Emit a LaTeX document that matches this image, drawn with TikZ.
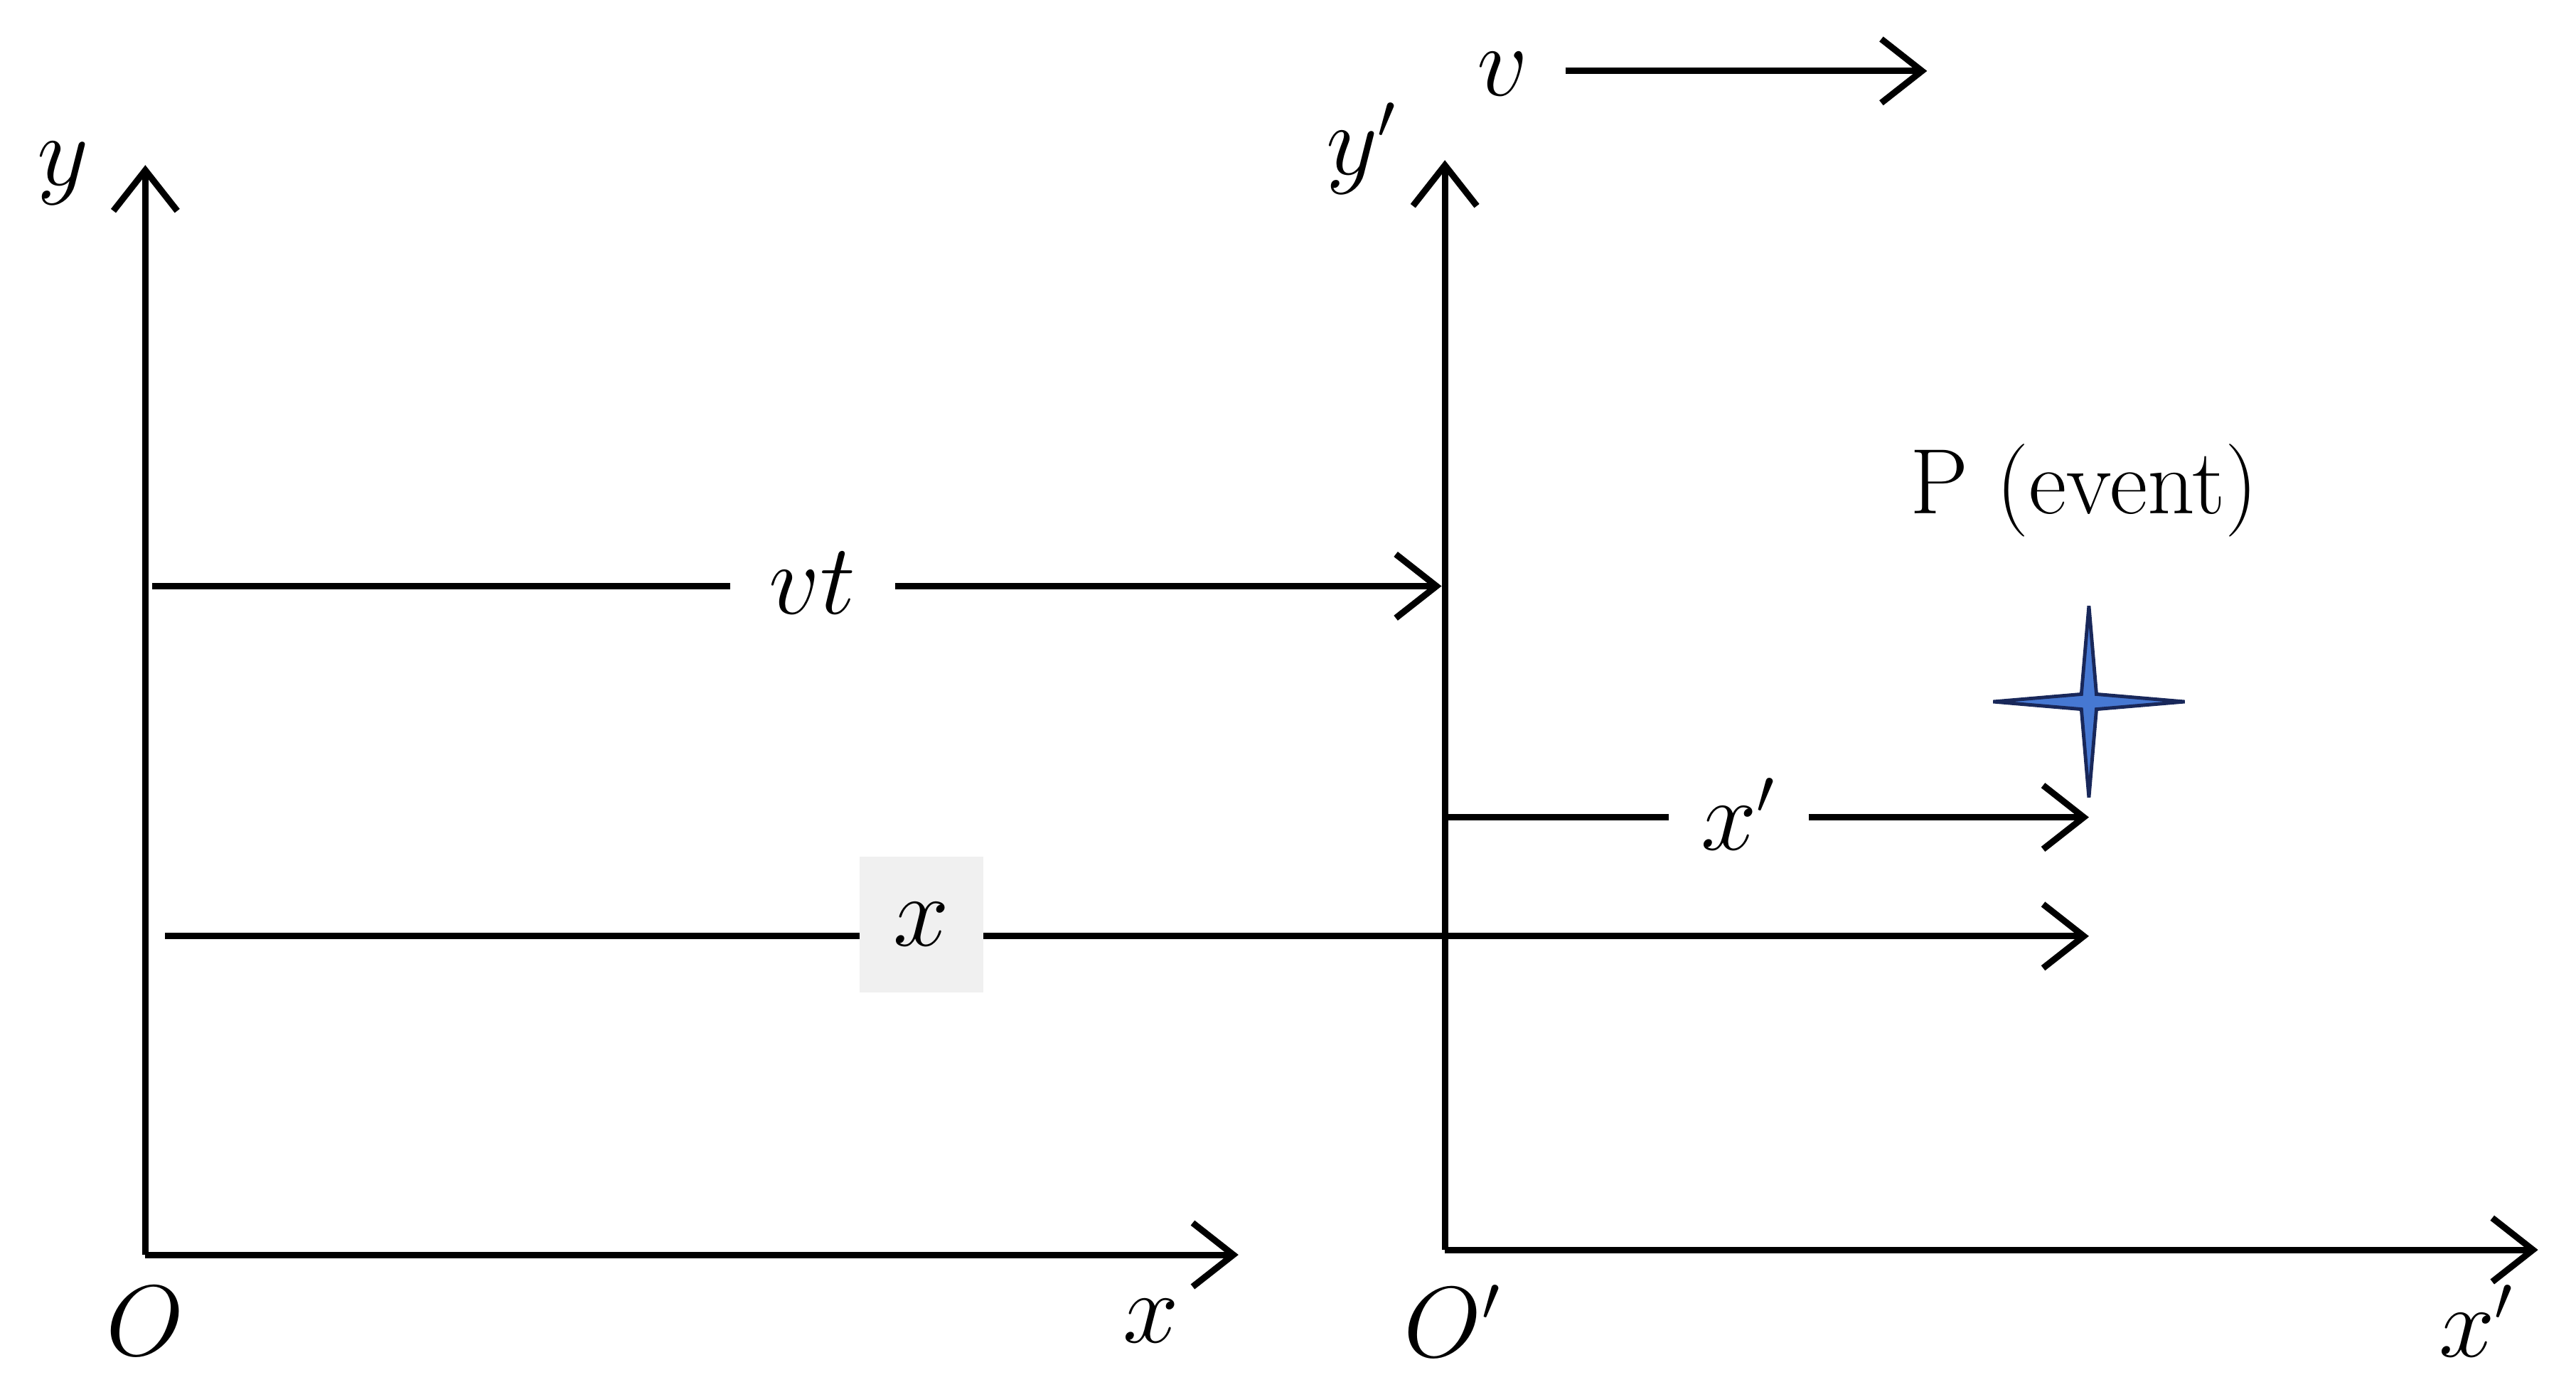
\documentclass[tikz,border=0pt]{standalone}
\usepackage{tikz}
\usetikzlibrary{arrows.meta,shapes.geometric}
\begin{document}
\begin{tikzpicture}[x=1cm,y=1cm,
  axis/.style={line width=1.1pt,-{Straight Barb[length=7pt,width=11pt,line width=1.1pt]}},
  lbl/.style={font=\fontsize{16}{18}\selectfont}]
\useasboundingbox (0,0) rectangle (15.6,8.4);
% origins and axis ends
\coordinate (O) at (0.88,0.80);
\coordinate (Ytop) at (0.88,7.40);
\coordinate (Xend) at (7.50,0.80);
\coordinate (Op) at (8.75,0.83);
\coordinate (Yptop) at (8.75,7.43);
\coordinate (Xpend) at (15.37,0.83);
\draw[axis] (O) -- (Ytop);
\draw[axis] (O) -- (Xend);
\draw[axis] (Op) -- (Yptop);
\draw[axis] (Op) -- (Xpend);

\node[lbl] (ly) at (0.38,7.35) {$y$};
\node[lbl] (lO) at (0.88,0.40) {$O$};
\node[lbl] (lx) at (6.97,0.40) {$x$};
\node[lbl] (lyp) at (8.25,7.50) {$y'$};
\node[lbl] (lOp) at (8.80,0.40) {$O'$};
\node[lbl] (lxp) at (15.00,0.40) {$x'$};

% velocity
\node[lbl] (v) at (9.10,7.95) {$v$};
\coordinate (vend) at (11.67,7.97);
\draw[axis] (9.48,7.97) -- (vend);

% vt
\coordinate (vtA) at (0.92,4.85);
\coordinate (vtB) at (8.73,4.85);
\draw[axis] (vtA) -- (vtB);
\node[lbl,fill=white,minimum width=1cm] (vt) at (4.92,4.87) {$vt$};

% x'
\coordinate (xpA) at (8.77,3.45);
\coordinate (xpB) at (12.65,3.45);
\draw[axis] (xpA) -- (xpB);
\node[lbl,fill=white,minimum width=0.85cm] (xp) at (10.53,3.47) {$x'$};

% x
\coordinate (xA) at (1.00,2.73);
\coordinate (xB) at (12.65,2.73);
\draw[axis] (xA) -- (xB);
\node[lbl,fill=black!6,minimum width=0.75cm,minimum height=0.82cm] (xl) at (5.58,2.80) {$x$};

% event
\node[star,star points=4,star point ratio=9,minimum size=1.16cm,inner sep=0pt,
  fill={rgb,255:red,70;green,120;blue,210},draw={rgb,255:red,25;green,40;blue,90},line width=0.6pt] (P) at (12.65,4.15) {};
\node[lbl] (Pl) at (12.62,5.43) {P (event)};
\end{tikzpicture}
\end{document}
